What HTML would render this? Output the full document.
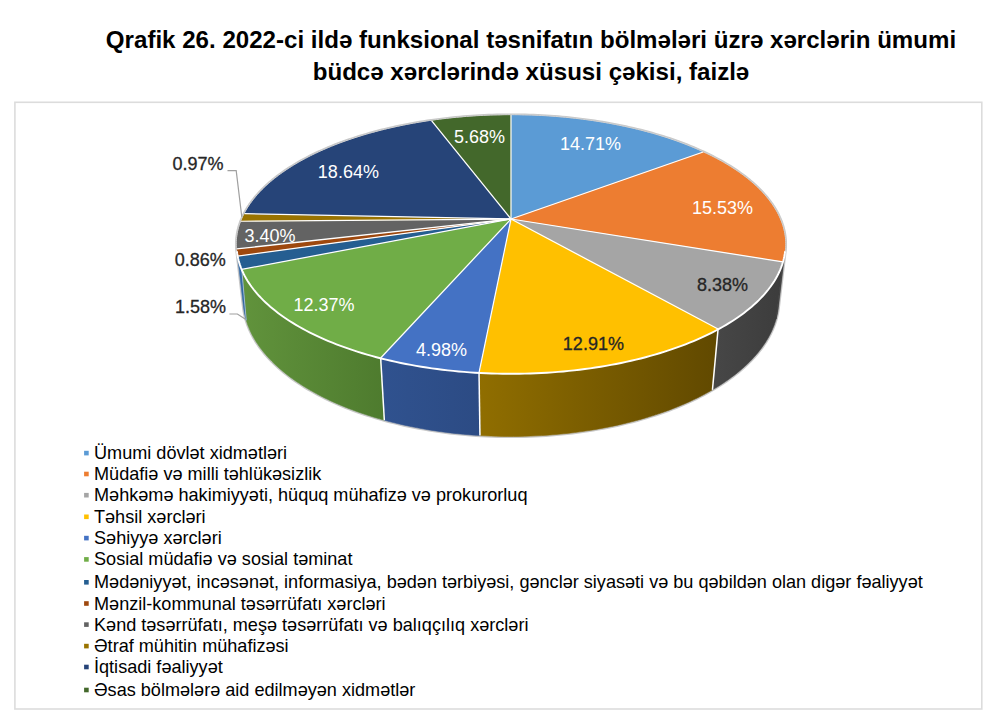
<!DOCTYPE html>
<html><head><meta charset="utf-8"><style>
html,body{margin:0;padding:0;background:#fff;width:1000px;height:726px;overflow:hidden}
.t{position:absolute;left:0;width:1062px;text-align:center;font:bold 24.1px "Liberation Sans",Arial,sans-serif;color:#000;white-space:nowrap}
svg{position:absolute;left:0;top:0}
</style></head><body>
<div class="t" style="top:25.9px;line-height:28px">Qrafik 26. 2022-ci ildə funksional təsnifatın bölmələri üzrə xərclərin ümumi</div>
<div class="t" style="top:58.4px;line-height:28px">büdcə xərclərində xüsusi çəkisi, faizlə</div>
<svg width="1000" height="726" viewBox="0 0 1000 726">
<rect x="14.9" y="102.3" width="966.9" height="606.7" fill="none" stroke="#DCDCDC" stroke-width="1.6"/>
<defs><linearGradient id="sg1" gradientUnits="userSpaceOnUse" x1="776.2" y1="0" x2="785.0" y2="0"><stop offset="0" stop-color="#404040"/><stop offset="1" stop-color="#404040"/></linearGradient><linearGradient id="sg2" gradientUnits="userSpaceOnUse" x1="712.4" y1="0" x2="782.9" y2="0"><stop offset="0" stop-color="#474747"/><stop offset="1" stop-color="#3C3C3C"/></linearGradient><linearGradient id="sg3" gradientUnits="userSpaceOnUse" x1="479.0" y1="0" x2="718.1" y2="0"><stop offset="0" stop-color="#906E00"/><stop offset="1" stop-color="#614900"/></linearGradient><linearGradient id="sg4" gradientUnits="userSpaceOnUse" x1="380.7" y1="0" x2="480.0" y2="0"><stop offset="0" stop-color="#30528F"/><stop offset="1" stop-color="#2C4B84"/></linearGradient><linearGradient id="sg5" gradientUnits="userSpaceOnUse" x1="241.8" y1="0" x2="384.3" y2="0"><stop offset="0" stop-color="#61933C"/><stop offset="1" stop-color="#4E7B2E"/></linearGradient><linearGradient id="sg6" gradientUnits="userSpaceOnUse" x1="237.0" y1="0" x2="246.2" y2="0"><stop offset="0" stop-color="#3A6EA8"/><stop offset="1" stop-color="#2F66A0"/></linearGradient></defs>
<g font-family="Liberation Sans, Arial, sans-serif" font-size="18">
<polygon points="236.97,251.44 236.73,249.01 236.59,246.58 236.55,244.16 236.60,241.76 236.74,239.36 236.98,236.97 237.31,234.60 237.74,232.23 238.25,229.88 238.85,227.54 239.54,225.22 240.32,222.91 241.18,220.61 242.12,218.33 243.15,216.07 244.26,213.82 245.45,211.60 246.72,209.39 248.07,207.20 249.50,205.02 251.00,202.87 252.57,200.74 254.22,198.63 255.94,196.54 257.73,194.47 259.59,192.42 261.52,190.39 263.51,188.39 265.57,186.41 267.70,184.45 269.89,182.52 272.13,180.61 274.45,178.73 276.82,176.86 279.24,175.03 281.73,173.22 284.27,171.43 286.87,169.67 289.52,167.94 292.22,166.23 294.98,164.54 297.78,162.89 300.63,161.26 303.54,159.65 306.48,158.08 309.48,156.53 312.52,155.00 315.60,153.51 318.73,152.04 321.89,150.60 325.10,149.19 328.35,147.80 331.63,146.44 334.96,145.11 338.32,143.81 341.71,142.54 345.14,141.29 348.60,140.08 352.10,138.89 355.63,137.73 359.19,136.60 362.78,135.49 366.39,134.42 370.04,133.37 373.71,132.36 377.41,131.37 381.13,130.41 384.88,129.48 388.66,128.58 392.45,127.70 396.27,126.86 400.11,126.05 403.97,125.26 407.85,124.50 411.74,123.77 415.66,123.08 419.59,122.41 423.54,121.76 427.51,121.15 431.49,120.57 435.48,120.02 439.49,119.49 443.51,119.00 447.54,118.53 451.58,118.09 455.63,117.68 459.70,117.31 463.77,116.96 467.85,116.64 471.94,116.34 476.03,116.08 480.13,115.85 484.24,115.64 488.35,115.47 492.46,115.32 496.58,115.21 500.70,115.12 504.82,115.06 508.94,115.03 513.06,115.03 517.18,115.06 521.30,115.12 525.42,115.21 529.54,115.32 533.65,115.47 537.76,115.64 541.87,115.85 545.97,116.08 550.06,116.34 554.15,116.64 558.23,116.96 562.30,117.31 566.37,117.68 570.42,118.09 574.46,118.53 578.49,119.00 582.51,119.49 586.52,120.02 590.51,120.57 594.49,121.15 598.46,121.76 602.41,122.41 606.34,123.08 610.26,123.77 614.15,124.50 618.03,125.26 621.89,126.05 625.73,126.86 629.55,127.70 633.34,128.58 637.12,129.48 640.87,130.41 644.59,131.37 648.29,132.36 651.96,133.37 655.61,134.42 659.22,135.49 662.81,136.60 666.37,137.73 669.90,138.89 673.40,140.08 676.86,141.29 680.29,142.54 683.68,143.81 687.04,145.11 690.37,146.44 693.65,147.80 696.90,149.19 700.11,150.60 703.27,152.04 706.40,153.51 709.48,155.00 712.52,156.53 715.52,158.08 718.46,159.65 721.37,161.26 724.22,162.89 727.02,164.54 729.78,166.23 732.48,167.94 735.13,169.67 737.73,171.43 740.27,173.22 742.76,175.03 745.18,176.86 747.55,178.73 749.87,180.61 752.11,182.52 754.30,184.45 756.43,186.41 758.49,188.39 760.48,190.39 762.41,192.42 764.27,194.47 766.06,196.54 767.78,198.63 769.43,200.74 771.00,202.87 772.50,205.02 773.93,207.20 775.28,209.39 776.55,211.60 777.74,213.82 778.85,216.07 779.88,218.33 780.82,220.61 781.68,222.91 782.46,225.22 783.15,227.54 783.75,229.88 784.26,232.23 784.69,234.60 785.02,236.97 785.26,239.36 785.40,241.76 785.45,244.16 785.41,246.58 785.27,249.01 785.03,251.44 778.34,307.93 778.02,310.27 777.63,312.61 777.15,314.96 776.59,317.31 775.95,319.66 775.23,322.01 774.43,324.36 773.54,326.72 772.57,329.07 771.51,331.42 770.37,333.77 769.15,336.12 767.84,338.46 766.44,340.79 764.96,343.12 763.39,345.45 761.73,347.76 759.99,350.07 758.16,352.36 756.24,354.65 754.24,356.93 752.15,359.19 749.97,361.44 747.71,363.67 745.36,365.89 742.92,368.10 740.39,370.28 737.78,372.45 735.08,374.60 732.30,376.72 729.43,378.83 726.48,380.91 723.44,382.97 720.32,385.01 717.12,387.02 713.83,389.00 710.46,390.96 707.02,392.89 703.49,394.79 699.88,396.66 696.20,398.49 692.44,400.30 688.60,402.07 684.69,403.80 680.70,405.50 676.64,407.17 672.51,408.79 668.32,410.38 664.05,411.93 659.72,413.44 655.32,414.91 650.86,416.33 646.34,417.72 641.76,419.06 637.12,420.35 632.42,421.60 627.67,422.81 622.86,423.96 618.01,425.07 613.11,426.13 608.16,427.15 603.16,428.11 598.13,429.02 593.05,429.89 587.94,430.70 582.79,431.46 577.61,432.17 572.39,432.82 567.15,433.43 561.88,433.97 556.59,434.47 551.28,434.91 545.95,435.30 540.60,435.63 535.24,435.90 529.86,436.13 524.48,436.29 519.09,436.40 513.70,436.46 508.30,436.46 502.91,436.40 497.52,436.29 492.14,436.13 486.76,435.90 481.40,435.63 476.05,435.30 470.72,434.91 465.41,434.47 460.12,433.97 454.85,433.43 449.61,432.82 444.39,432.17 439.21,431.46 434.06,430.70 428.95,429.89 423.87,429.02 418.84,428.11 413.84,427.15 408.89,426.13 403.99,425.07 399.14,423.96 394.33,422.81 389.58,421.60 384.88,420.35 380.24,419.06 375.66,417.72 371.14,416.33 366.68,414.91 362.28,413.44 357.95,411.93 353.68,410.38 349.49,408.79 345.36,407.17 341.30,405.50 337.31,403.80 333.40,402.07 329.56,400.30 325.80,398.49 322.12,396.66 318.51,394.79 314.98,392.89 311.54,390.96 308.17,389.00 304.88,387.02 301.68,385.01 298.56,382.97 295.52,380.91 292.57,378.83 289.70,376.72 286.92,374.60 284.22,372.45 281.61,370.28 279.08,368.10 276.64,365.89 274.29,363.67 272.03,361.44 269.85,359.19 267.76,356.93 265.76,354.65 263.84,352.36 262.01,350.07 260.27,347.76 258.61,345.45 257.04,343.12 255.56,340.79 254.16,338.46 252.85,336.12 251.63,333.77 250.49,331.42 249.43,329.07 248.46,326.72 247.57,324.36 246.77,322.01 246.05,319.66 245.41,317.31 244.85,314.96 244.37,312.61 243.98,310.27 243.66,307.93" fill="#fff" stroke="#C8C8C8" stroke-width="3.2" stroke-linejoin="round"/>
<polygon points="785.03,251.44 784.75,253.52 784.39,255.60 783.96,257.69 783.46,259.78 782.89,261.87 776.15,318.96 776.73,316.75 777.24,314.54 777.68,312.33 778.04,310.13 778.34,307.93" fill="url(#sg1)" stroke="url(#sg1)" stroke-width="0.6" stroke-linejoin="round"/>
<polygon points="782.89,261.87 782.18,264.15 781.38,266.42 780.49,268.70 779.51,270.98 778.45,273.26 777.29,275.53 776.04,277.80 774.69,280.07 773.26,282.34 771.73,284.60 770.11,286.85 768.39,289.09 766.59,291.33 764.68,293.56 762.69,295.77 760.60,297.98 758.41,300.17 756.14,302.35 753.76,304.52 751.30,306.67 748.74,308.81 746.09,310.93 743.34,313.03 740.50,315.11 737.57,317.17 734.54,319.21 731.43,321.23 728.22,323.22 724.92,325.20 721.54,327.14 718.06,329.06 712.44,389.82 715.83,387.80 719.14,385.76 722.37,383.68 725.50,381.58 728.55,379.46 731.51,377.31 734.38,375.14 737.16,372.95 739.85,370.74 742.45,368.50 744.96,366.25 747.38,363.99 749.71,361.70 751.95,359.40 754.09,357.09 756.15,354.76 758.11,352.42 759.99,350.07 761.77,347.71 763.46,345.35 765.06,342.97 766.57,340.59 767.99,338.19 769.32,335.80 770.56,333.40 771.71,331.00 772.78,328.59 773.75,326.18 774.64,323.78 775.44,321.37 776.15,318.96" fill="url(#sg2)" stroke="url(#sg2)" stroke-width="0.6" stroke-linejoin="round"/>
<polygon points="718.06,329.06 714.44,330.98 710.73,332.87 706.93,334.73 703.04,336.56 699.07,338.36 695.01,340.12 690.86,341.85 686.64,343.54 682.33,345.19 677.94,346.81 673.47,348.39 668.93,349.93 664.31,351.42 659.62,352.88 654.86,354.29 650.03,355.66 645.13,356.98 640.16,358.26 635.14,359.49 630.05,360.67 624.90,361.81 619.70,362.90 614.45,363.93 609.14,364.92 603.78,365.86 598.38,366.74 592.93,367.57 587.44,368.35 581.91,369.08 576.35,369.75 570.75,370.36 565.13,370.93 559.47,371.43 553.79,371.88 548.09,372.28 542.37,372.62 536.63,372.90 530.88,373.12 525.13,373.29 519.36,373.40 513.59,373.46 507.81,373.46 502.04,373.40 496.28,373.28 490.52,373.10 484.77,372.87 479.03,372.58 479.95,435.54 485.52,435.85 491.11,436.09 496.70,436.27 502.30,436.39 507.91,436.46 513.51,436.46 519.12,436.40 524.72,436.29 530.31,436.11 535.90,435.87 541.47,435.58 547.03,435.22 552.57,434.81 558.08,434.34 563.58,433.80 569.04,433.21 574.48,432.57 579.89,431.86 585.26,431.10 590.59,430.29 595.89,429.41 601.14,428.49 606.35,427.50 611.51,426.47 616.62,425.38 621.68,424.24 626.68,423.05 631.63,421.80 636.52,420.51 641.35,419.17 646.12,417.78 650.82,416.34 655.46,414.86 660.03,413.33 664.52,411.76 668.95,410.15 673.30,408.49 677.58,406.79 681.78,405.05 685.90,403.27 689.94,401.46 693.90,399.60 697.78,397.71 701.57,395.79 705.28,393.83 708.90,391.84 712.44,389.82" fill="url(#sg3)" stroke="url(#sg3)" stroke-width="0.6" stroke-linejoin="round"/>
<polygon points="479.03,372.58 473.27,372.24 467.53,371.83 461.82,371.37 456.13,370.86 450.46,370.28 444.83,369.65 439.23,368.97 433.67,368.23 428.15,367.44 422.67,366.59 417.23,365.69 411.85,364.74 406.51,363.73 401.23,362.68 396.00,361.57 390.83,360.42 385.72,359.22 380.67,357.96 384.34,420.20 389.25,421.52 394.22,422.78 399.25,423.99 404.34,425.15 409.48,426.26 414.67,427.31 419.90,428.31 425.18,429.25 430.51,430.14 435.88,430.97 441.28,431.75 446.72,432.47 452.19,433.13 457.70,433.73 463.23,434.27 468.78,434.76 474.36,435.18 479.95,435.54" fill="url(#sg4)" stroke="url(#sg4)" stroke-width="0.6" stroke-linejoin="round"/>
<polygon points="380.67,357.96 375.72,356.68 370.83,355.34 366.01,353.96 361.26,352.54 356.58,351.07 351.98,349.56 347.45,348.02 343.00,346.43 338.63,344.80 334.34,343.13 330.13,341.43 326.00,339.69 321.96,337.92 318.00,336.12 314.13,334.28 310.35,332.41 306.66,330.51 303.05,328.58 299.54,326.62 296.13,324.64 292.80,322.62 289.57,320.59 286.43,318.53 283.39,316.45 280.44,314.34 277.59,312.22 274.83,310.08 272.17,307.91 269.61,305.73 267.15,303.54 264.78,301.33 262.51,299.10 260.34,296.87 258.26,294.62 256.28,292.36 254.40,290.09 252.61,287.81 250.93,285.52 249.33,283.23 247.84,280.93 246.44,278.62 245.13,276.31 243.92,274.00 242.81,271.68 241.78,269.37 246.24,320.31 247.01,322.75 247.87,325.18 248.82,327.61 249.86,330.04 250.98,332.47 252.20,334.90 253.51,337.32 254.91,339.73 256.41,342.14 257.99,344.55 259.67,346.94 261.44,349.33 263.31,351.71 265.26,354.07 267.31,356.43 269.45,358.77 271.69,361.10 274.02,363.41 276.44,365.70 278.95,367.98 281.56,370.24 284.26,372.48 287.05,374.70 289.93,376.90 292.90,379.07 295.97,381.22 299.12,383.35 302.36,385.44 305.69,387.52 309.11,389.56 312.61,391.57 316.21,393.55 319.88,395.51 323.64,397.42 327.48,399.31 331.41,401.15 335.41,402.97 339.49,404.74 343.66,406.48 347.89,408.17 352.20,409.83 356.59,411.44 361.05,413.02 365.57,414.54 370.17,416.03 374.83,417.47 379.55,418.86 384.34,420.20" fill="url(#sg5)" stroke="url(#sg5)" stroke-width="0.6" stroke-linejoin="round"/>
<polygon points="241.78,269.37 240.88,267.12 240.07,264.87 239.34,262.63 238.70,260.38 238.14,258.14 237.67,255.90 237.28,253.67 236.97,251.44 243.66,307.93 243.93,309.99 244.27,312.05 244.67,314.11 245.13,316.18 245.65,318.24 246.24,320.31" fill="url(#sg6)" stroke="url(#sg6)" stroke-width="0.6" stroke-linejoin="round"/>
<line x1="718.06" y1="329.06" x2="712.44" y2="389.82" stroke="#fff" stroke-width="1.5"/>
<line x1="479.03" y1="372.58" x2="479.95" y2="435.54" stroke="#fff" stroke-width="1.5"/>
<line x1="380.67" y1="357.96" x2="384.34" y2="420.20" stroke="#fff" stroke-width="1.5"/>
<line x1="241.78" y1="269.37" x2="246.24" y2="320.31" stroke="#fff" stroke-width="0.5"/>
<polygon points="511.00,219.00 511.00,115.03 514.93,115.04 518.85,115.08 522.78,115.15 526.70,115.24 530.62,115.36 534.54,115.50 538.45,115.68 542.36,115.87 546.26,116.10 550.16,116.35 554.05,116.63 557.94,116.93 561.82,117.26 565.69,117.62 569.55,118.00 573.40,118.41 577.25,118.85 581.08,119.31 584.90,119.80 588.71,120.32 592.51,120.86 596.29,121.43 600.06,122.02 603.81,122.64 607.55,123.29 611.28,123.96 614.99,124.66 618.68,125.39 622.35,126.14 626.00,126.92 629.64,127.72 633.25,128.56 636.85,129.41 640.42,130.30 643.97,131.21 647.50,132.14 651.00,133.10 654.48,134.09 657.94,135.11 661.36,136.15 664.77,137.21 668.14,138.30 671.48,139.42 674.80,140.57 678.09,141.73 681.34,142.93 684.57,144.15 687.76,145.40 690.92,146.67 694.04,147.96 697.13,149.29 700.18,150.63 703.20,152.00" fill="#5B9BD5" stroke="#5B9BD5" stroke-width="0.4" stroke-linejoin="round"/>
<polygon points="511.00,219.00 703.20,152.00 706.18,153.40 709.11,154.82 712.01,156.27 714.87,157.74 717.69,159.23 720.46,160.75 723.19,162.29 725.88,163.86 728.52,165.45 731.11,167.06 733.66,168.70 736.16,170.36 738.62,172.05 741.02,173.76 743.37,175.49 745.67,177.24 747.91,179.01 750.10,180.81 752.24,182.63 754.32,184.47 756.34,186.33 758.31,188.21 760.21,190.12 762.06,192.04 763.84,193.99 765.56,195.95 767.22,197.93 768.81,199.94 770.34,201.96 771.80,204.00 773.19,206.05 774.51,208.13 775.77,210.22 776.95,212.33 778.06,214.46 779.10,216.60 780.06,218.75 780.95,220.92 781.76,223.11 782.49,225.31 783.14,227.52 783.72,229.75 784.21,231.98 784.63,234.23 784.96,236.49 785.20,238.76 785.37,241.04 785.45,243.33 785.44,245.62 785.34,247.93 785.16,250.24 784.88,252.56 784.52,254.88 784.07,257.20 783.52,259.54 782.89,261.87" fill="#ED7D31" stroke="#ED7D31" stroke-width="0.4" stroke-linejoin="round"/>
<polygon points="511.00,219.00 782.89,261.87 782.18,264.15 781.38,266.42 780.49,268.70 779.51,270.98 778.45,273.26 777.29,275.53 776.04,277.80 774.69,280.07 773.26,282.34 771.73,284.60 770.11,286.85 768.39,289.09 766.59,291.33 764.68,293.56 762.69,295.77 760.60,297.98 758.41,300.17 756.14,302.35 753.76,304.52 751.30,306.67 748.74,308.81 746.09,310.93 743.34,313.03 740.50,315.11 737.57,317.17 734.54,319.21 731.43,321.23 728.22,323.22 724.92,325.20 721.54,327.14 718.06,329.06" fill="#A5A5A5" stroke="#A5A5A5" stroke-width="0.4" stroke-linejoin="round"/>
<polygon points="511.00,219.00 718.06,329.06 714.44,330.98 710.73,332.87 706.93,334.73 703.04,336.56 699.07,338.36 695.01,340.12 690.86,341.85 686.64,343.54 682.33,345.19 677.94,346.81 673.47,348.39 668.93,349.93 664.31,351.42 659.62,352.88 654.86,354.29 650.03,355.66 645.13,356.98 640.16,358.26 635.14,359.49 630.05,360.67 624.90,361.81 619.70,362.90 614.45,363.93 609.14,364.92 603.78,365.86 598.38,366.74 592.93,367.57 587.44,368.35 581.91,369.08 576.35,369.75 570.75,370.36 565.13,370.93 559.47,371.43 553.79,371.88 548.09,372.28 542.37,372.62 536.63,372.90 530.88,373.12 525.13,373.29 519.36,373.40 513.59,373.46 507.81,373.46 502.04,373.40 496.28,373.28 490.52,373.10 484.77,372.87 479.03,372.58" fill="#FFC000" stroke="#FFC000" stroke-width="0.4" stroke-linejoin="round"/>
<polygon points="511.00,219.00 479.03,372.58 473.27,372.24 467.53,371.83 461.82,371.37 456.13,370.86 450.46,370.28 444.83,369.65 439.23,368.97 433.67,368.23 428.15,367.44 422.67,366.59 417.23,365.69 411.85,364.74 406.51,363.73 401.23,362.68 396.00,361.57 390.83,360.42 385.72,359.22 380.67,357.96" fill="#4472C4" stroke="#4472C4" stroke-width="0.4" stroke-linejoin="round"/>
<polygon points="511.00,219.00 380.67,357.96 375.72,356.68 370.83,355.34 366.01,353.96 361.26,352.54 356.58,351.07 351.98,349.56 347.45,348.02 343.00,346.43 338.63,344.80 334.34,343.13 330.13,341.43 326.00,339.69 321.96,337.92 318.00,336.12 314.13,334.28 310.35,332.41 306.66,330.51 303.05,328.58 299.54,326.62 296.13,324.64 292.80,322.62 289.57,320.59 286.43,318.53 283.39,316.45 280.44,314.34 277.59,312.22 274.83,310.08 272.17,307.91 269.61,305.73 267.15,303.54 264.78,301.33 262.51,299.10 260.34,296.87 258.26,294.62 256.28,292.36 254.40,290.09 252.61,287.81 250.93,285.52 249.33,283.23 247.84,280.93 246.44,278.62 245.13,276.31 243.92,274.00 242.81,271.68 241.78,269.37" fill="#70AD47" stroke="#70AD47" stroke-width="0.4" stroke-linejoin="round"/>
<polygon points="511.00,219.00 241.78,269.37 240.89,267.15 240.09,264.93 239.36,262.71 238.73,260.49 238.17,258.28 237.70,256.07" fill="#255E91" stroke="#255E91" stroke-width="0.4" stroke-linejoin="round"/>
<polygon points="511.00,219.00 237.70,256.07 237.37,254.27 237.10,252.47 236.89,250.67 236.72,248.88" fill="#9E480E" stroke="#9E480E" stroke-width="0.4" stroke-linejoin="round"/>
<polygon points="511.00,219.00 236.72,248.88 236.60,246.70 236.55,244.53 236.58,242.37 236.68,240.21 236.86,238.07 237.12,235.93 237.45,233.80 237.85,231.68 238.32,229.57 238.87,227.48 239.49,225.39 240.17,223.32 240.93,221.25" fill="#636363" stroke="#636363" stroke-width="0.4" stroke-linejoin="round"/>
<polygon points="511.00,219.00 240.93,221.25 241.69,219.35 242.51,217.46 243.39,215.58 244.32,213.72" fill="#997300" stroke="#997300" stroke-width="0.4" stroke-linejoin="round"/>
<polygon points="511.00,219.00 244.32,213.72 245.44,211.62 246.63,209.54 247.89,207.48 249.22,205.43 250.62,203.41 252.08,201.39 253.61,199.40 255.20,197.43 256.85,195.47 258.57,193.53 260.34,191.62 262.18,189.72 264.07,187.84 266.03,185.99 268.04,184.15 270.10,182.33 272.22,180.54 274.40,178.76 276.62,177.01 278.90,175.28 281.23,173.58 283.61,171.89 286.04,170.23 288.51,168.59 291.04,166.97 293.60,165.37 296.22,163.80 298.87,162.26 301.57,160.73 304.32,159.23 307.10,157.75 309.92,156.30 312.79,154.87 315.69,153.46 318.63,152.08 321.61,150.73 324.62,149.39 327.67,148.09 330.75,146.80 333.86,145.55 337.01,144.31 340.19,143.10 343.40,141.92 346.64,140.76 349.91,139.63 353.21,138.52 356.54,137.44 359.89,136.38 363.27,135.34 366.68,134.34 370.11,133.35 373.56,132.40 377.04,131.47 380.54,130.56 384.06,129.68 387.61,128.82 391.17,128.00 394.75,127.19 398.36,126.41 401.98,125.66 405.61,124.93 409.27,124.23 412.94,123.56 416.63,122.91 420.33,122.28 424.05,121.68 427.78,121.11 431.52,120.56" fill="#264478" stroke="#264478" stroke-width="0.4" stroke-linejoin="round"/>
<polygon points="511.00,219.00 431.52,120.56 435.23,120.05 438.95,119.56 442.68,119.10 446.42,118.66 450.17,118.24 453.92,117.85 457.69,117.49 461.47,117.15 465.25,116.84 469.04,116.55 472.83,116.28 476.63,116.05 480.44,115.83 484.25,115.64 488.06,115.48 491.88,115.34 495.70,115.23 499.52,115.14 503.35,115.08 507.17,115.04 511.00,115.03" fill="#43682B" stroke="#43682B" stroke-width="0.4" stroke-linejoin="round"/>
<line x1="511.00" y1="219.00" x2="511.00" y2="115.03" stroke="#fff" stroke-width="1.25" stroke-linecap="butt"/>
<line x1="511.00" y1="219.00" x2="703.20" y2="152.00" stroke="#fff" stroke-width="1.25" stroke-linecap="butt"/>
<line x1="511.00" y1="219.00" x2="782.89" y2="261.87" stroke="#fff" stroke-width="1.25" stroke-linecap="butt"/>
<line x1="511.00" y1="219.00" x2="718.06" y2="329.06" stroke="#fff" stroke-width="1.25" stroke-linecap="butt"/>
<line x1="511.00" y1="219.00" x2="479.03" y2="372.58" stroke="#fff" stroke-width="1.25" stroke-linecap="butt"/>
<line x1="511.00" y1="219.00" x2="380.67" y2="357.96" stroke="#fff" stroke-width="1.25" stroke-linecap="butt"/>
<line x1="511.00" y1="219.00" x2="241.78" y2="269.37" stroke="#fff" stroke-width="1.25" stroke-linecap="butt"/>
<line x1="511.00" y1="219.00" x2="237.70" y2="256.07" stroke="#fff" stroke-width="1.25" stroke-linecap="butt"/>
<line x1="511.00" y1="219.00" x2="236.72" y2="248.88" stroke="#fff" stroke-width="1.25" stroke-linecap="butt"/>
<line x1="511.00" y1="219.00" x2="240.93" y2="221.25" stroke="#fff" stroke-width="1.25" stroke-linecap="butt"/>
<line x1="511.00" y1="219.00" x2="244.32" y2="213.72" stroke="#fff" stroke-width="1.25" stroke-linecap="butt"/>
<line x1="511.00" y1="219.00" x2="431.52" y2="120.56" stroke="#fff" stroke-width="1.25" stroke-linecap="butt"/>
<polyline points="785.03,251.79 784.72,254.00 784.34,256.21 783.87,258.43 783.33,260.65 782.69,262.88 781.97,265.10 781.17,267.33 780.28,269.56 779.31,271.78 778.25,274.01 777.10,276.23 775.86,278.45 774.54,280.67 773.13,282.88 771.63,285.09 770.04,287.29 768.36,289.49 766.59,291.67 764.73,293.85 762.79,296.02 760.75,298.18 758.62,300.32 756.40,302.45 754.10,304.57 751.70,306.68 749.21,308.77 746.64,310.85 743.97,312.90 741.22,314.94 738.37,316.96 735.44,318.96 732.43,320.94 729.32,322.90 726.13,324.83 722.85,326.75 719.49,328.63 716.04,330.49 712.51,332.32 708.90,334.13 705.20,335.90 701.42,337.65 697.57,339.37 693.63,341.05 689.62,342.70 685.53,344.32 681.37,345.90 677.13,347.45 672.82,348.96 668.44,350.44 663.99,351.87 659.48,353.27 654.90,354.63 650.25,355.95 645.54,357.22 640.77,358.46 635.95,359.65 631.06,360.79 626.12,361.90 621.13,362.95 616.09,363.97 611.00,364.93 605.86,365.85 600.68,366.72 595.46,367.54 590.20,368.32 584.90,369.04 579.57,369.72 574.20,370.34 568.81,370.92 563.38,371.44 557.94,371.91 552.47,372.33 546.98,372.70 541.47,373.02 535.95,373.28 530.42,373.49 524.88,373.65 519.33,373.75 513.78,373.81 508.22,373.81 502.67,373.75 497.12,373.65 491.58,373.49 486.05,373.28 480.53,373.02 475.02,372.70 469.53,372.33 464.06,371.91 458.62,371.44 453.19,370.92 447.80,370.34 442.43,369.72 437.10,369.04 431.80,368.32 426.54,367.54 421.32,366.72 416.14,365.85 411.00,364.93 405.91,363.97 400.87,362.95 395.88,361.90 390.94,360.79 386.05,359.65 381.23,358.46 376.46,357.22 371.75,355.95 367.10,354.63 362.52,353.27 358.01,351.87 353.56,350.44 349.18,348.96 344.87,347.45 340.63,345.90 336.47,344.32 332.38,342.70 328.37,341.05 324.43,339.37 320.58,337.65 316.80,335.90 313.10,334.13 309.49,332.32 305.96,330.49 302.51,328.63 299.15,326.75 295.87,324.83 292.68,322.90 289.57,320.94 286.56,318.96 283.63,316.96 280.78,314.94 278.03,312.90 275.36,310.85 272.79,308.77 270.30,306.68 267.90,304.57 265.60,302.45 263.38,300.32 261.25,298.18 259.21,296.02 257.27,293.85 255.41,291.67 253.64,289.49 251.96,287.29 250.37,285.09 248.87,282.88 247.46,280.67 246.14,278.45 244.90,276.23 243.75,274.01 242.69,271.78 241.72,269.56 240.83,267.33 240.03,265.10 239.31,262.88 238.67,260.65 238.13,258.43 237.66,256.21 237.28,254.00 236.97,251.79" fill="none" stroke="#fff" stroke-width="1.9" stroke-linejoin="round" stroke-linecap="round"/>
<polyline points="236.63,251.48 236.42,249.46 236.28,247.44 236.21,245.44 236.21,243.43 236.27,241.44 236.39,239.44 236.58,237.46 236.83,235.49 237.15,233.52 237.53,231.56 237.97,229.61 238.47,227.67 239.03,225.74 239.65,223.82 240.33,221.90 241.07,220.00 241.87,218.11 242.72,216.24 243.63,214.37 244.60,212.51 245.62,210.67 246.69,208.84 247.82,207.03 249.00,205.22 250.23,203.43 251.52,201.66 252.85,199.89 254.24,198.14 255.67,196.41 257.15,194.69 258.68,192.99 260.26,191.30 261.89,189.62 263.55,187.97 265.27,186.32 267.03,184.70 268.83,183.09 270.68,181.49 272.56,179.92 274.49,178.35 276.46,176.81 278.47,175.28 280.52,173.77 282.61,172.28 284.74,170.81 286.90,169.35 289.10,167.91 291.34,166.48 293.61,165.08 295.92,163.69 298.26,162.32 300.63,160.97 303.04,159.64 305.48,158.33 307.95,157.03 310.46,155.76 312.99,154.50 315.55,153.26 318.15,152.04 320.77,150.84 323.42,149.66 326.09,148.49 328.80,147.35 331.53,146.22 334.29,145.12 337.07,144.03 339.87,142.96 342.70,141.91 345.56,140.88 348.43,139.87 351.33,138.88 354.26,137.91 357.20,136.96 360.16,136.03 363.15,135.12 366.15,134.23 369.17,133.35 372.22,132.50 375.28,131.67 378.36,130.85 381.45,130.06 384.57,129.28 387.70,128.53 390.84,127.80 394.00,127.08 397.18,126.39 400.37,125.71 403.57,125.05 406.79,124.42 410.03,123.80 413.27,123.21 416.53,122.63 419.80,122.08 423.08,121.54 426.37,121.03 429.67,120.53 432.98,120.05 436.30,119.60 439.63,119.16 442.97,118.75 446.32,118.35 449.68,117.98 453.04,117.62 456.42,117.29 459.79,116.97 463.18,116.68 466.57,116.40 469.97,116.15 473.37,115.91 476.77,115.70 480.18,115.50 483.60,115.33 487.02,115.18 490.44,115.05 493.86,114.93 497.29,114.84 500.71,114.77 504.14,114.72 507.57,114.69 511.00,114.68 514.43,114.69 517.86,114.72 521.29,114.77 524.71,114.84 528.14,114.93 531.56,115.05 534.98,115.18 538.40,115.33 541.82,115.50 545.23,115.70 548.63,115.91 552.03,116.15 555.43,116.40 558.82,116.68 562.21,116.97 565.58,117.29 568.96,117.62 572.32,117.98 575.68,118.35 579.03,118.75 582.37,119.16 585.70,119.60 589.02,120.05 592.33,120.53 595.63,121.03 598.92,121.54 602.20,122.08 605.47,122.63 608.73,123.21 611.97,123.80 615.21,124.42 618.43,125.05 621.63,125.71 624.82,126.39 628.00,127.08 631.16,127.80 634.30,128.53 637.43,129.28 640.55,130.06 643.64,130.85 646.72,131.67 649.78,132.50 652.83,133.35 655.85,134.23 658.85,135.12 661.84,136.03 664.80,136.96 667.74,137.91 670.67,138.88 673.57,139.87 676.44,140.88 679.30,141.91 682.13,142.96 684.93,144.03 687.71,145.12 690.47,146.22 693.20,147.35 695.91,148.49 698.58,149.66 701.23,150.84 703.85,152.04 706.45,153.26 709.01,154.50 711.54,155.76 714.05,157.03 716.52,158.33 718.96,159.64 721.37,160.97 723.74,162.32 726.08,163.69 728.39,165.08 730.66,166.48 732.90,167.91 735.10,169.35 737.26,170.81 739.39,172.28 741.48,173.77 743.53,175.28 745.54,176.81 747.51,178.35 749.44,179.92 751.32,181.49 753.17,183.09 754.97,184.70 756.73,186.32 758.45,187.97 760.11,189.62 761.74,191.30 763.32,192.99 764.85,194.69 766.33,196.41 767.76,198.14 769.15,199.89 770.48,201.66 771.77,203.43 773.00,205.22 774.18,207.03 775.31,208.84 776.38,210.67 777.40,212.51 778.37,214.37 779.28,216.24 780.13,218.11 780.93,220.00 781.67,221.90 782.35,223.82 782.97,225.74 783.53,227.67 784.03,229.61 784.47,231.56 784.85,233.52 785.17,235.49 785.42,237.46 785.61,239.44 785.73,241.44 785.79,243.43 785.79,245.44 785.72,247.44 785.58,249.46 785.37,251.48" fill="none" stroke="#D2D2D2" stroke-width="1.0" stroke-linejoin="round"/>
<text x="590.5" y="150.2" fill="#fff" text-anchor="middle">14.71%</text>
<text x="722.5" y="213.7" fill="#fff" text-anchor="middle">15.53%</text>
<text x="722.4" y="290.9" fill="#262626" stroke="#262626" stroke-width="0.3" text-anchor="middle">8.38%</text>
<text x="593.4" y="349.7" fill="#262626" stroke="#262626" stroke-width="0.3" text-anchor="middle">12.91%</text>
<text x="441.6" y="355.8" fill="#fff" text-anchor="middle">4.98%</text>
<text x="324.0" y="310.5" fill="#fff" text-anchor="middle">12.37%</text>
<text x="200.6" y="312.8" fill="#262626" stroke="#262626" stroke-width="0.3" text-anchor="middle">1.58%</text>
<text x="200.2" y="266.3" fill="#262626" stroke="#262626" stroke-width="0.3" text-anchor="middle">0.86%</text>
<text x="270.0" y="242.3" fill="#fff" text-anchor="middle">3.40%</text>
<text x="198.1" y="170.1" fill="#262626" stroke="#262626" stroke-width="0.3" text-anchor="middle">0.97%</text>
<text x="348.4" y="177.5" fill="#fff" text-anchor="middle">18.64%</text>
<text x="479.6" y="143.1" fill="#fff" text-anchor="middle">5.68%</text>
<polyline points="227.5,170.6 236.2,170.6 241.8,216.9" fill="none" stroke="#A0A0A0" stroke-width="1.2"/>
<polyline points="229.4,314 237.4,314 245.5,319.3" fill="none" stroke="#A0A0A0" stroke-width="1.2"/>
</g>
<g font-family="Liberation Sans, Arial, sans-serif" font-size="18.1" fill="#000">
<rect x="84.1" y="450.80" width="4.6" height="4.6" fill="#5B9BD5"/>
<text x="94" y="459.10">Ümumi dövlət xidmətləri</text>
<rect x="84.1" y="471.70" width="4.6" height="4.6" fill="#ED7D31"/>
<text x="94" y="480.00">Müdafiə və milli təhlükəsizlik</text>
<rect x="84.1" y="492.90" width="4.6" height="4.6" fill="#A5A5A5"/>
<text x="94" y="501.20">Məhkəmə hakimiyyəti, hüquq mühafizə və prokurorluq</text>
<rect x="84.1" y="514.50" width="4.6" height="4.6" fill="#FFC000"/>
<text x="94" y="522.80">Təhsil xərcləri</text>
<rect x="84.1" y="535.80" width="4.6" height="4.6" fill="#4472C4"/>
<text x="94" y="544.10">Səhiyyə xərcləri</text>
<rect x="84.1" y="557.10" width="4.6" height="4.6" fill="#70AD47"/>
<text x="94" y="565.40">Sosial müdafiə və sosial təminat</text>
<rect x="84.1" y="580.00" width="4.6" height="4.6" fill="#255E91"/>
<text x="94" y="588.30">Mədəniyyət, incəsənət, informasiya, bədən tərbiyəsi, gənclər siyasəti və bu qəbildən olan digər fəaliyyət</text>
<rect x="84.1" y="601.20" width="4.6" height="4.6" fill="#9E480E"/>
<text x="94" y="609.50">Mənzil-kommunal təsərrüfatı xərcləri</text>
<rect x="84.1" y="622.30" width="4.6" height="4.6" fill="#636363"/>
<text x="94" y="630.60">Kənd təsərrüfatı, meşə təsərrüfatı və balıqçılıq xərcləri</text>
<rect x="84.1" y="643.80" width="4.6" height="4.6" fill="#997300"/>
<text x="94" y="652.10">Ətraf mühitin mühafizəsi</text>
<rect x="84.1" y="664.70" width="4.6" height="4.6" fill="#264478"/>
<text x="94" y="673.00">İqtisadi fəaliyyət</text>
<rect x="84.1" y="687.70" width="4.6" height="4.6" fill="#43682B"/>
<text x="94" y="696.00">Əsas bölmələrə aid edilməyən xidmətlər</text>
</g>
</svg>
</body></html>
